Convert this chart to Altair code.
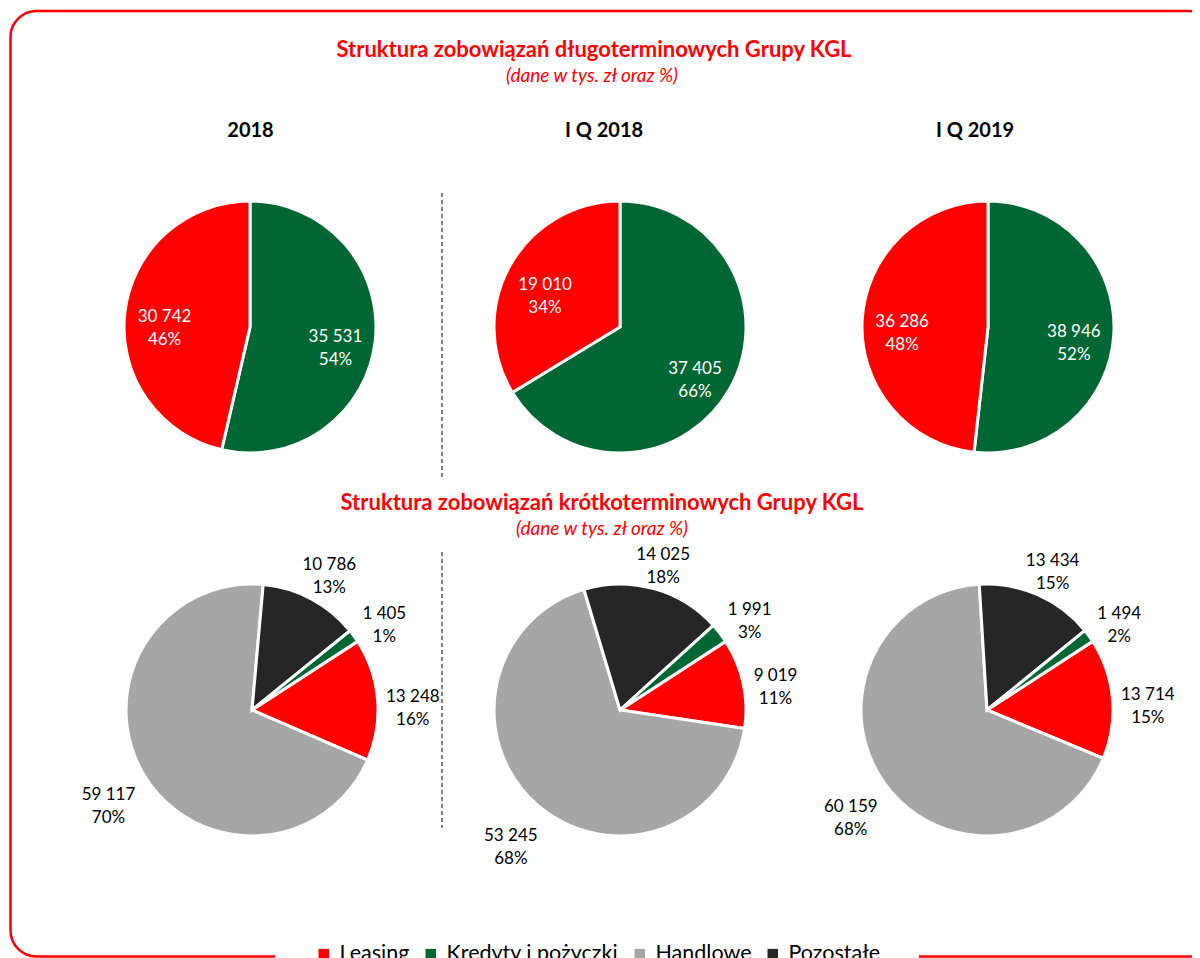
import math
import altair as alt
import pandas as pd

# ---------------- data ----------------
CATEGORIES = ["Leasing", "Kredyty i pożyczki", "Handlowe", "Pozostałe"]
COLORS = ["#FF0000", "#006633", "#A6A6A6", "#262626"]
PERIODS = ["2018", "I Q 2018", "I Q 2019"]

# long-term liabilities (clockwise from 12 o'clock)
LT_CATS = ["Kredyty i pożyczki", "Leasing"]
LT_2018 = [35531, 30742]
LT_IQ2018 = [37405, 19010]
LT_IQ2019 = [38946, 36286]
LT_PCT_2018 = [54, 46]
LT_PCT_IQ2018 = [66, 34]
LT_PCT_IQ2019 = [52, 48]

# short-term liabilities (clockwise order)
ST_CATS = ["Leasing", "Handlowe", "Pozostałe", "Kredyty i pożyczki"]
ST_2018 = [13248, 59117, 10786, 1405]
ST_IQ2018 = [9019, 53245, 14025, 1991]
ST_IQ2019 = [13714, 60159, 13434, 1494]
ST_PCT_2018 = [16, 70, 13, 1]
ST_PCT_IQ2018 = [11, 68, 18, 3]
ST_PCT_IQ2019 = [15, 68, 15, 2]

TITLE_LT = "Struktura zobowiązań długoterminowych Grupy KGL"
TITLE_ST = "Struktura zobowiązań krótkoterminowych Grupy KGL"
SUBTITLE = "(dane w tys. zł oraz %)"

# ---------------- styling / layout ----------------
FONT = "Lato"
RED = "#FF0000"
R = 126
W, H = 1184, 950
LABEL_FS = 17


def fmt(v):
    return f"{v:,}".replace(",", " ")


def pie_frame(cats, values, pcts, a0, inside):
    total = sum(values)
    rows = []
    cum = 0.0
    for c, v, p in zip(cats, values, pcts):
        s = cum / total
        cum += v
        e = cum / total
        m = (s + e) / 2
        label = f"{fmt(v)}\n{p}%"
        if inside:
            lr = 86
        else:
            ang = a0 + m * 2 * math.pi
            w = max(len(fmt(v)), len(f"{p}%")) * 9.2
            h = 44
            lr = R + 6 + abs(math.sin(ang)) * w / 2 + abs(math.cos(ang)) * h / 2
        rows.append(dict(kategoria=c, value=v, start=s, end=e, mid=m, label=label, lr=lr))
    return pd.DataFrame(rows)


color_scale = alt.Scale(domain=CATEGORIES, range=COLORS)
legend = alt.Legend(
    title=None, orient="none", legendX=267, legendY=897, direction="horizontal",
    symbolType="square", symbolSize=110, symbolStrokeWidth=0,
    labelFont=FONT, labelFontSize=21.5, labelColor="black", labelLimit=400,
    fillColor="white", padding=38, columnPadding=10, labelOffset=5,
)


def pie_layer(df, cx, cy, a0, label_color):
    tscale = alt.Scale(domain=[0, 1], range=[a0, a0 + 2 * math.pi])
    base = alt.Chart(df).encode(x=alt.value(cx), y=alt.value(cy))
    arc = base.mark_arc(radius=R, stroke="white", strokeWidth=3).encode(
        theta=alt.Theta("start:Q", stack=None, scale=tscale),
        theta2=alt.Theta2("end:Q"),
        color=alt.Color("kategoria:N", scale=color_scale, legend=legend),
    )
    txt = base.mark_text(font=FONT, fontSize=LABEL_FS, lineBreak="\n", lineHeight=23,
                         color=label_color, align="center", baseline="middle").encode(
        theta=alt.Theta("mid:Q", stack=None, scale=tscale),
        radius=alt.Radius("lr:Q", scale=None),
        text=alt.Text("label:N"),
    )
    return alt.layer(arc, txt)


def text_layer(t, x, y, size, weight="normal", style="normal", color="black"):
    return alt.Chart(pd.DataFrame({"t": [t]})).mark_text(
        font=FONT, fontSize=size, fontWeight=weight, fontStyle=style, color=color,
        align="center", baseline="middle",
    ).encode(text=alt.Text("t:N"), x=alt.value(x), y=alt.value(y))


one = pd.DataFrame({"k": [0]})
frame = alt.Chart(one).mark_rect(fill="white", stroke=RED, strokeWidth=2.5, cornerRadius=26).encode(
    x=alt.value(2.5), x2=alt.value(1206), y=alt.value(3), y2=alt.value(948.5)
)
rule_top = alt.Chart(one).mark_rule(color="black", strokeDash=[4, 3], strokeWidth=1).encode(
    x=alt.value(434), y=alt.value(185), y2=alt.value(469)
)
rule_bot = alt.Chart(one).mark_rule(color="black", strokeDash=[4, 3], strokeWidth=1).encode(
    x=alt.value(434), y=alt.value(544), y2=alt.value(820)
)

A_ST = math.radians(57)
top_x = [242, 612, 980]
bot_x = [244, 612, 979]
lt_sets = [(LT_2018, LT_PCT_2018), (LT_IQ2018, LT_PCT_IQ2018), (LT_IQ2019, LT_PCT_IQ2019)]
st_sets = [(ST_2018, ST_PCT_2018), (ST_IQ2018, ST_PCT_IQ2018), (ST_IQ2019, ST_PCT_IQ2019)]

layers = [frame, rule_top, rule_bot,
          text_layer(TITLE_LT, 586, 42, 22, weight="bold", color=RED),
          text_layer(SUBTITLE, 584, 68, 19, style="italic", color=RED),
          text_layer(TITLE_ST, 594, 495, 22, weight="bold", color=RED),
          text_layer(SUBTITLE, 594, 521, 19, style="italic", color=RED)]
for p, x in zip(PERIODS, [242.5, 596, 967]):
    layers.append(text_layer(p, x, 123, 20, weight="bold"))
for (vals, pcts), x in zip(lt_sets, top_x):
    layers.append(pie_layer(pie_frame(LT_CATS, vals, pcts, 0.0, True), x, 319, 0.0, "white"))
for (vals, pcts), x in zip(st_sets, bot_x):
    layers.append(pie_layer(pie_frame(ST_CATS, vals, pcts, A_ST, False), x, 702, A_ST, "black"))

chart = alt.layer(*layers).resolve_scale(theta="independent").properties(
    width=W, height=H, padding=0, autosize="none"
).configure_view(stroke=None)

chart.save("out.html", embed_options={"renderer": "svg", "actions": False})
